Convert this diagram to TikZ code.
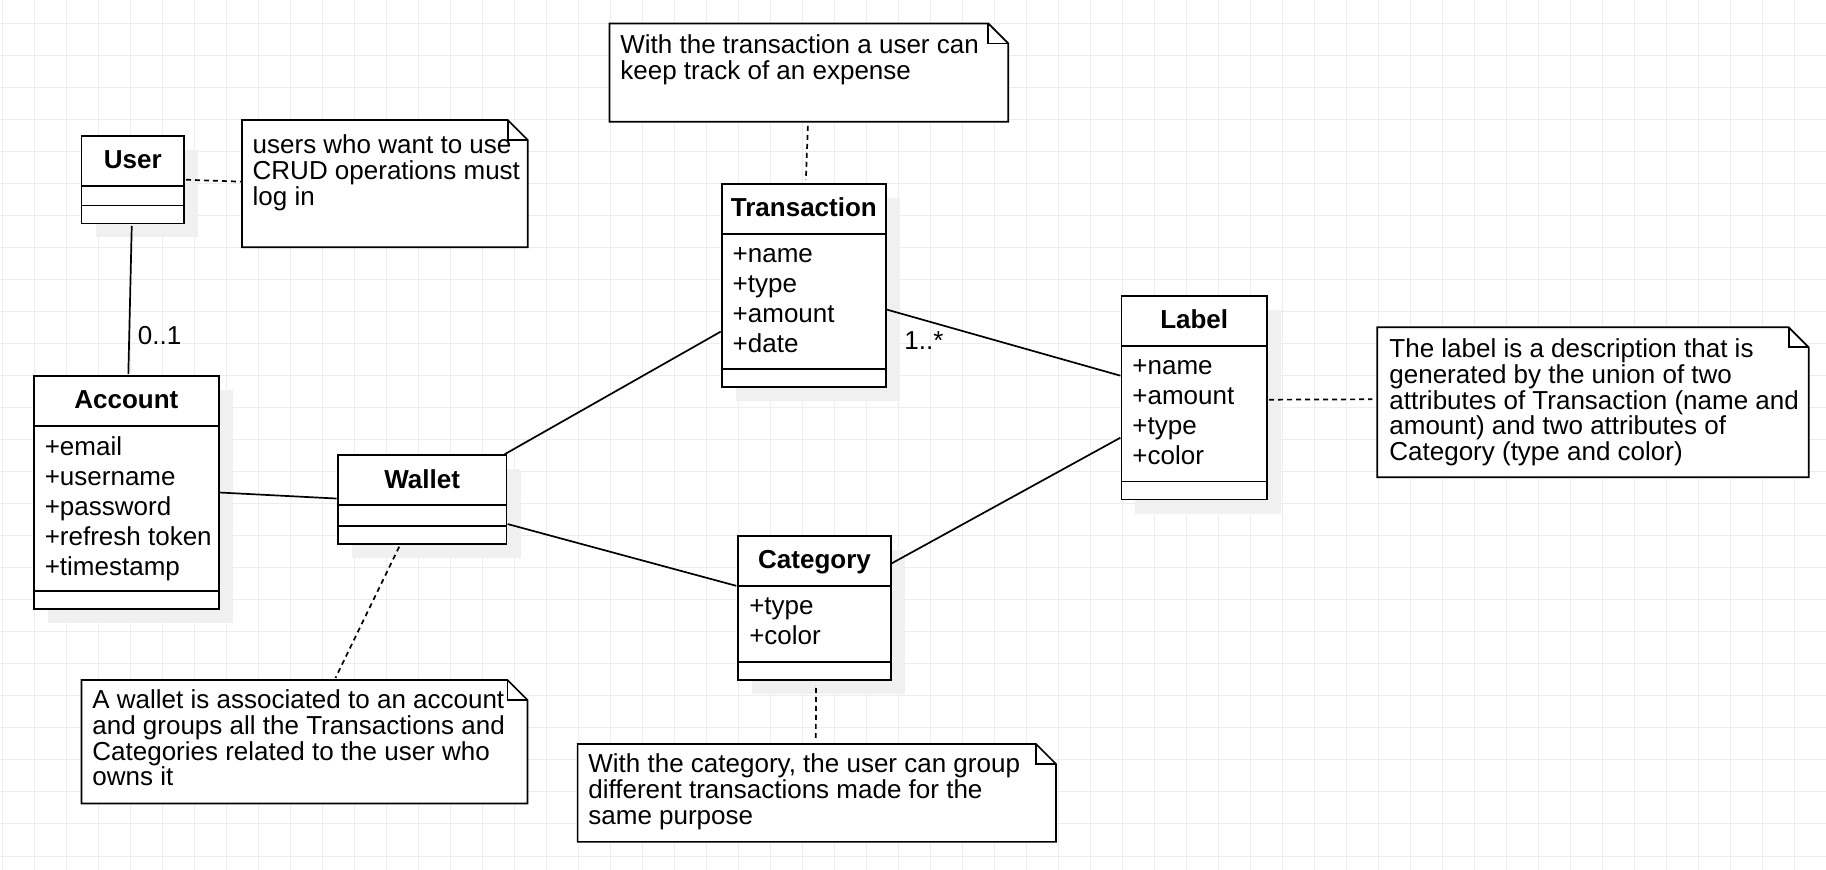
\documentclass[tikz,border=0pt]{standalone}
\usepackage{fontspec}
\setmainfont{Liberation Sans}
\usetikzlibrary{calc,fit}
\definecolor{gridc}{RGB}{237,237,237}
\definecolor{shadowc}{RGB}{240,240,240}
\newcommand\umlclass[5]{%
  \fill[shadowc] ({#2+14},{#3+14}) rectangle ({#4+14},{#5+14});
  \node[clsbox, fit={(#2,#3) (#4,#5)}] (#1) {};
  \draw[clsline] (#1.west |- 0,{#3+50}) -- (#1.east |- 0,{#3+50});
  \draw[clsline] (#1.west |- 0,{#5-18}) -- (#1.east |- 0,{#5-18});
}
\newcommand\umlnote[5]{%
  \node[inner sep=0pt, outer sep=0pt, fit={(#2,#3) (#4,#5)}] (#1) {};
  \draw[notebox] (#1.north west) -- ($(#1.north east)+(-20,0)$) -- ($(#1.north east)+(0,20)$) -- (#1.south east) -- (#1.south west) -- cycle;
  \draw[notebox, fill=none] ($(#1.north east)+(-20,0)$) -- ($(#1.north east)+(-20,20)$) -- ($(#1.north east)+(0,20)$);
}
\begin{document}
\begin{tikzpicture}[x=0.5pt, y=-0.5pt,
  clsbox/.style={draw, fill=white, line width=0.85pt, inner sep=0pt, outer sep=0pt},
  clsline/.style={line width=0.85pt},
  notebox/.style={draw, fill=white, line width=0.85pt, line join=miter},
  title/.style={anchor=base, inner sep=0pt, font=\fontsize{13}{15}\selectfont\bfseries},
  attr/.style={anchor=base west, inner sep=0pt, font=\fontsize{13}{15}\selectfont},
  notetxt/.style={anchor=base west, inner sep=0pt, font=\fontsize{13}{13}\selectfont},
  assoc/.style={line width=0.85pt},
  dep/.style={line width=0.85pt, dash pattern=on 2.5pt off 2pt}]
\useasboundingbox (0,0) rectangle (1826,870);
\fill[white] (0,0) rectangle (1826,870);
% grid
\foreach \gx in {2.3,34.3,...,1826} \draw[gridc, line width=0.5pt] (\gx,0) -- (\gx,870);
\foreach \gy in {24,56,...,870} \draw[gridc, line width=0.5pt] (0,\gy) -- (1826,\gy);

% classes
\umlclass{user}{81.5}{136}{184}{223.5}
\node[title] (user-t) at ($(user.north)+(0,33)$) {User};

\umlclass{account}{33.8}{376}{218.9}{609}
\node[title] (account-t) at ($(account.north)+(0,33)$) {Account};
\node[attr] (account-a1) at (44.4,455.2) {+email};
\node[attr] (account-a2) at (44.4,485.2) {+username};
\node[attr] (account-a3) at (44.4,515.2) {+password};
\node[attr] (account-a4) at (44.4,545.2) {+refresh token};
\node[attr] (account-a5) at (44.4,575.2) {+timestamp};

\umlclass{wallet}{337.7}{455.3}{506.6}{543.8}
\node[title] (wallet-t) at ($(wallet.north)+(0,33)$) {Wallet};

\umlclass{trans}{721.7}{184}{886}{387.3}
\node[title] (trans-t) at ($(trans.north)+(0,33)$) {Transaction};
\node[attr] (trans-a1) at (732.3,262.3) {+name};
\node[attr] (trans-a2) at (732.3,292.3) {+type};
\node[attr] (trans-a3) at (732.3,322.3) {+amount};
\node[attr] (trans-a4) at (732.3,352.3) {+date};

\umlclass{label}{1121.4}{295.8}{1267}{499.6}
\node[title] (label-t) at ($(label.north)+(0,33)$) {Label};
\node[attr] (label-a1) at (1132,374.9) {+name};
\node[attr] (label-a2) at (1132,404.9) {+amount};
\node[attr] (label-a3) at (1132,434.9) {+type};
\node[attr] (label-a4) at (1132,464.9) {+color};

\umlclass{cat}{738.3}{535.7}{890.8}{680}
\node[title] (cat-t) at ($(cat.north)+(0,33)$) {Category};
\node[attr] (cat-a1) at (748.9,614.7) {+type};
\node[attr] (cat-a2) at (748.9,644.7) {+color};

% notes
\umlnote{unote}{242}{120}{527.7}{247.3}
\node[notetxt] (unote-1) at (252.3,154) {users who want to use};
\node[notetxt] (unote-2) at (252.3,179.8) {CRUD operations must};
\node[notetxt] (unote-3) at (252.3,205.6) {log in};

\umlnote{tnote}{609.5}{23.5}{1008.3}{121.8}
\node[notetxt] (tnote-1) at (620,53.5) {With the transaction a user can};
\node[notetxt] (tnote-2) at (620,79.3) {keep track of an expense};

\umlnote{lnote}{1377.3}{327.3}{1808.7}{477.3}
\node[notetxt] (lnote-1) at (1389,357.3) {The label is a description that is};
\node[notetxt] (lnote-2) at (1389,383.2) {generated by the union of two};
\node[notetxt] (lnote-3) at (1389,409.1) {attributes of Transaction (name and};
\node[notetxt] (lnote-4) at (1389,435) {amount) and two attributes of};
\node[notetxt] (lnote-5) at (1389,460.9) {Category (type and color)};

\umlnote{cnote}{577.6}{744}{1056}{841.9}
\node[notetxt] (cnote-1) at (588,773) {With the category, the user can group};
\node[notetxt] (cnote-2) at (588,798.8) {different transactions made for the};
\node[notetxt] (cnote-3) at (588,824.6) {same purpose};

\umlnote{wnote}{81.5}{680}{527.5}{803.5}
\node[notetxt] (wnote-1) at (92,708.5) {A wallet is associated to an account};
\node[notetxt] (wnote-2) at (92,734.3) {and groups all the Transactions and};
\node[notetxt] (wnote-3) at (92,760.1) {Categories related to the user who};
\node[notetxt] (wnote-4) at (92,785.9) {owns it};

% connectors
\draw[assoc] ($(user.south)+(-1,2.5)$) -- ($(account.north)+(2,-2)$);
\node[attr] (mult01) at (137.5,344.5) {0..1};
\draw[dep] ($(user.east)+(2,0)$) -- ($(unote.west)+(-1,-2)$);
\draw[dep] ($(tnote.south)+(-1,4)$) -- ($(trans.north)+(2,-4)$);
\draw[assoc] ($(wallet.north east)+(-2,-1)$) -- ($(trans.west)+(-1,46)$);
\draw[assoc] (account.east) -- ($(wallet.west)+(-1,-1)$);
\draw[assoc] ($(trans.east)+(1,24)$) -- ($(label.west)+(-1,-22)$);
\node[attr] (mult1n) at (904,350) {1..*};
\draw[assoc] ($(wallet.east)+(1,24.5)$) -- ($(cat.west)+(-2,-22)$);
\draw[assoc] ($(cat.east)+(0,-44)$) -- ($(label.west)+(-1,40)$);
\draw[dep] ($(label.east)+(2,2)$) -- ($(lnote.west)+(-5,-3)$);
\draw[dep] ($(cat.south)+(1.5,8)$) -- ($(cnote.north)+(-1,-2.5)$);
\draw[dep] ($(wallet.south)+(-23,3)$) -- ($(wnote.north)+(31,-2)$);
\end{tikzpicture}
\end{document}
